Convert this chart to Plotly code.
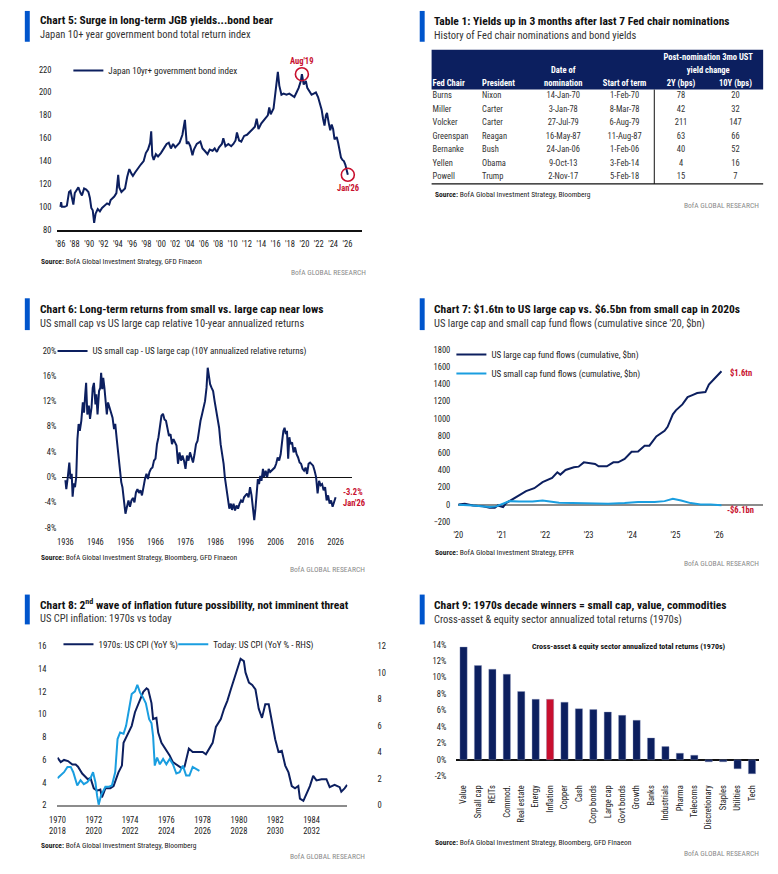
import plotly.graph_objects as go

W, H = 778, 874
def px(x): return x / W
def py(y): return 1 - y / H

NAVY = "#0c1f5f"
LIGHT = "#1a9ee0"
RED = "#c8102e"
ACCENT = "#0055cc"
FONT = "Liberation Sans Narrow, Roboto Condensed, Arial Narrow, sans-serif"
TXT = "#222222"

# ---------------- Chart 5 data: Japan 10yr+ government bond index ----------------
jgb_t = [1986.0,1986.1,1986.2,1986.6,1986.9,1987.2,1987.4,1987.6,1987.8,1988.0,1988.3,1988.5,1988.8,1989.0,1989.3,1989.6,1989.9,
         1990.1,1990.3,1990.5,1990.7,1990.9,1991.2,1991.5,1991.8,1992.0,1992.5,1992.8,1993.0,1993.5,1993.8,1994.05,1994.2,1994.5,
         1994.8,1995.0,1995.3,1995.6,1995.9,1996.1,1996.4,1996.8,1997.2,1997.6,1997.9,1998.2,1998.5,1998.65,1998.8,1999.0,1999.3,
         1999.6,2000.0,2000.5,2000.8,2001.1,2001.4,2001.7,2002.0,2002.3,2002.6,2003.0,2003.35,2003.6,2003.8,2004.1,2004.4,2004.6,
         2005.0,2005.5,2005.8,2006.1,2006.5,2006.8,2007.2,2007.5,2007.8,2008.1,2008.5,2008.7,2009.0,2009.4,2009.8,2010.1,2010.4,
         2010.6,2010.9,2011.2,2011.6,2012.0,2012.4,2012.8,2013.1,2013.35,2013.6,2014.0,2014.5,2014.9,2015.1,2015.3,2015.7,2016.0,
         2016.3,2016.5,2016.8,2017.1,2017.5,2017.9,2018.3,2018.6,2018.9,2019.2,2019.5,2019.65,2019.9,2020.2,2020.4,2020.7,2021.0,
         2021.3,2021.6,2021.9,2022.2,2022.4,2022.6,2022.8,2023.0,2023.15,2023.4,2023.6,2023.8,2024.0,2024.2,2024.5,2024.7,2024.9,
         2025.1,2025.3,2025.5,2025.7,2025.9,2026.05]
jgb_v = [100,104,100,100,101,113,114,108,102,112,115,117,112,110,116,115,113,
         108,99,97,86,94,98,96,99,100,103,102,106,109,112,128,117,113,
         115,116,126,133,129,127,130,134,137,140,147,150,156,166,145,141,146,
         144,147,152,155,156,151,155,152,154,156,163,176,155,157,153,145,150,
         155,157,151,149,146,150,149,151,148,152,155,160,153,155,153,155,158,
         165,158,157,162,163,166,168,170,177,168,173,177,180,187,181,186,200,
         218,206,198,199,198,199,197,196,200,204,210,216,207,210,204,201,198,
         199,200,196,190,185,177,171,180,182,173,167,172,168,159,161,156,150,
         143,141,140,137,131,128]
jgb_marks = [2019.65, 2026.05]
jgb_mark_labels = ["Aug'19", "Jan'26"]
jgb_ticks = list(range(1986, 2027, 2))

# ---------------- Table 1 data ----------------
tbl_head_bottom = ["Fed Chair", "President", "nomination", "Start of term", "2Y (bps)", "10Y (bps)"]
tbl_head_mid = ["", "", "Date of", "", "yield change", ""]
tbl_head_top = ["", "", "", "", "Post-nomination 3mo UST", ""]
fed_chair = ["Burns", "Miller", "Volcker", "Greenspan", "Bernanke", "Yellen", "Powell"]
president = ["Nixon", "Carter", "Carter", "Reagan", "Bush", "Obama", "Trump"]
nom_date = ["14-Jan-70", "3-Jan-78", "27-Jul-79", "16-May-87", "24-Jan-06", "9-Oct-13", "2-Nov-17"]
term_start = ["1-Feb-70", "8-Mar-78", "6-Aug-79", "11-Aug-87", "1-Feb-06", "3-Feb-14", "5-Feb-18"]
chg_2y = [78, 42, 211, 63, 40, 4, 15]
chg_10y = [20, 32, 147, 66, 52, 16, 7]

# ---------------- Chart 6 data: small minus large cap 10Y annualized ----------------
sl_t = [1936.0,1936.3,1936.8,1937.3,1937.7,1938.1,1938.4,1938.8,1939.2,1939.6,1940.0,1940.4,1940.8,1941.3,1941.8,1942.2,1942.6,
        1942.9,1943.3,1943.8,1944.2,1944.7,1945.1,1945.5,1946.0,1946.3,1946.7,1947.2,1947.6,1947.9,1948.3,1948.6,1949.0,1949.4,
        1949.8,1950.2,1950.7,1951.2,1951.7,1952.2,1952.6,1953.1,1953.6,1954.1,1954.6,1955.0,1955.5,1956.0,1956.5,1957.0,1957.5,
        1958.0,1958.5,1959.0,1959.5,1960.0,1960.5,1961.0,1961.5,1962.0,1962.5,1963.0,1963.5,1964.0,1964.5,1965.0,1965.5,1966.0,
        1966.5,1967.0,1967.5,1968.0,1968.5,1969.0,1969.5,1970.0,1970.5,1971.0,1971.5,1972.0,1972.5,1973.0,1973.5,1974.0,1974.5,
        1975.0,1975.5,1976.0,1976.5,1977.0,1977.5,1978.0,1978.5,1979.0,1979.5,1980.0,1980.5,1981.0,1981.5,1982.0,1982.5,1983.0,
        1983.4,1983.8,1984.2,1984.7,1985.2,1985.7,1986.2,1986.7,1987.2,1987.7,1988.2,1988.7,1989.1,1989.6,1990.1,1990.6,1991.1,
        1991.5,1992.0,1992.5,1993.0,1993.5,1994.0,1994.5,1995.0,1995.5,1996.0,1996.5,1997.0,1997.5,1998.0,1998.5,1998.9,1999.3,
        1999.7,2000.1,2000.5,2000.9,2001.3,2001.8,2002.2,2002.7,2003.2,2003.7,2004.2,2004.7,2005.2,2005.7,2006.2,2006.7,2007.2,
        2007.7,2008.2,2008.6,2009.0,2009.4,2009.8,2010.2,2010.6,2011.0,2011.5,2012.0,2012.5,2013.0,2013.5,2014.0,2014.5,2015.0,
        2015.5,2016.0,2016.5,2017.0,2017.5,2018.0,2018.5,2019.0,2019.5,2020.0,2020.5,2021.0,2021.5,2022.0,2022.5,2023.0,2023.5,
        2024.0,2024.5,2025.0,2025.5,2026.0]
sl_v = [-0.5,-1.9,0.0,2.3,-0.3,0.5,-3.1,-1.0,-1.6,0.0,6.0,8.4,7.3,8.9,11.8,10.2,13.1,
        14.9,9.9,11.3,9.2,11.0,14.1,14.9,11.5,13.1,9.9,13.6,14.1,16.5,13.9,15.7,14.1,11.3,
        9.9,11.8,11.0,10.5,9.4,7.6,8.4,6.0,3.6,0.5,-0.8,-1.6,-4.2,-5.8,-4.7,-3.7,-4.7,
        -3.7,-3.3,-4.0,-2.4,-1.9,-2.5,-2.1,-2.9,-1.3,-0.3,0.5,-0.3,0.8,1.3,1.5,2.6,2.9,
        5.2,6.3,7.8,9.7,10.0,9.1,8.9,7.8,6.5,6.8,5.2,6.0,5.5,5.0,2.1,3.9,2.6,
        3.4,2.6,1.3,3.4,2.6,3.9,3.1,2.3,3.6,5.2,5.7,7.6,8.9,9.9,11.3,12.0,14.1,
        17.3,16.0,14.7,14.1,13.6,12.0,10.5,8.9,7.8,5.2,3.6,2.1,0.0,-1.6,-3.2,-5.0,-4.2,
        -5.2,-4.2,-5.3,-4.5,-5.0,-4.2,-3.7,-4.0,-3.2,-2.9,-2.6,-3.2,-1.6,-2.9,-5.0,-6.8,-5.0,
        -3.2,-0.3,-1.1,0.2,-0.6,1.3,0.0,1.0,0.0,1.3,0.8,1.0,1.3,1.5,2.1,3.1,2.6,
        3.6,5.7,7.3,7.8,6.8,7.3,2.9,6.3,5.2,5.5,3.9,4.7,3.6,3.1,2.3,2.1,1.3,
        1.0,1.5,0.5,2.1,2.3,2.1,1.8,1.0,0.0,-2.6,-0.6,-1.3,-1.1,-2.1,-1.6,-3.7,-2.9,
        -4.2,-3.7,-4.7,-4.0,-3.2]
sl_ticks = list(range(1936, 2027, 10))
sl_yticks = [-8, -4, 0, 4, 8, 12, 16, 20]

# ---------------- Chart 7 data: cumulative fund flows ($bn) ----------------
lc_t = [2020.0,2020.15,2020.34,2020.57,2020.72,2020.84,2020.91,2021.03,2021.1,2021.25,2021.56,2021.75,2021.94,2022.16,2022.28,
        2022.35,2022.47,2022.66,2022.77,2022.89,2023.0,2023.15,2023.23,2023.42,2023.57,2023.68,2023.83,2023.99,2024.14,2024.29,
        2024.4,2024.56,2024.75,2024.82,2024.94,2025.01,2025.16,2025.28,2025.39,2025.5,2025.69,2025.77,2025.88,2026.0,2026.06]
lc_v = [4,12,-8,-19,-35,-35,-8,-27,19,65,158,192,262,312,377,
        350,404,435,442,492,481,473,446,446,492,492,531,615,619,685,
        685,792,858,904,1050,1096,1165,1250,1273,1296,1308,1396,1454,1512,1550]
sc_t = [2020.0,2020.34,2020.72,2020.87,2021.03,2021.18,2021.4,2021.71,2021.94,2022.16,2022.32,2022.62,2023.08,2023.45,2023.83,
        2024.14,2024.52,2024.75,2024.94,2025.13,2025.35,2025.58,2025.81,2026.06]
sc_v = [0,-8,-27,-19,12,42,38,38,50,38,23,19,15,12,19,
        31,31,42,69,50,19,4,4,-6]
flow_ticks = [2020, 2021, 2022, 2023, 2024, 2025, 2026]
flow_yticks = list(range(-200, 1801, 200))

# ---------------- Chart 8 data: US CPI YoY ----------------
cpi70_t = [1970.00,1970.18,1970.36,1970.58,1970.82,1971.00,1971.13,1971.36,1971.55,1971.67,1971.82,1972.00,1972.18,1972.36,1972.45,
           1972.64,1972.91,1973.09,1973.36,1973.55,1973.64,1974.09,1974.27,1974.55,1974.73,1974.91,1975.00,1975.18,1975.27,1975.45,
           1975.55,1975.73,1976.00,1976.18,1976.36,1976.64,1976.82,1977.00,1977.09,1977.24,1977.45,1977.73,1978.00,1978.18,1978.36,
           1978.55,1978.73,1979.00,1979.18,1979.36,1979.55,1979.73,1979.91,1980.09,1980.27,1980.36,1980.55,1980.73,1980.91,1981.09,
           1981.27,1981.45,1981.64,1981.82,1982.00,1982.18,1982.36,1982.55,1982.73,1982.91,1983.09,1983.27,1983.36,1983.55,1983.73,
           1983.91,1984.09,1984.27,1984.55,1984.82,1985.00,1985.27,1985.55,1985.64,1985.82,1985.96]
cpi70_v = [6.2,5.8,6.0,5.9,5.6,5.6,5.4,4.8,4.5,4.3,4.4,3.5,3.3,3.4,2.7,
           3.5,3.5,3.7,4.9,5.5,7.5,9.0,10.2,11.3,12.0,12.3,12.2,11.0,9.6,9.7,
           8.4,7.5,6.8,6.4,5.8,5.5,5.3,5.4,6.1,7.0,6.7,6.7,6.7,6.5,7.0,
           7.5,8.9,9.6,10.5,11.2,12.2,13.1,14.1,14.9,14.7,13.7,12.8,12.6,12.2,10.5,
           9.7,10.9,10.9,9.3,7.8,6.7,6.8,5.5,4.9,3.7,3.5,3.7,2.6,2.4,3.0,
           3.7,4.6,4.2,4.3,4.3,3.6,3.8,3.6,3.2,3.5,3.8]
cpi_now_t = [2018.00,2018.18,2018.36,2018.55,2018.73,2018.87,2019.00,2019.09,2019.27,2019.45,2019.64,2019.82,2019.96,2020.09,
             2020.18,2020.27,2020.40,2020.64,2020.82,2021.00,2021.18,2021.31,2021.45,2021.64,2021.78,2021.91,2022.09,2022.27,
             2022.40,2022.55,2022.69,2022.87,2023.05,2023.18,2023.27,2023.36,2023.49,2023.64,2023.82,2024.00,2024.18,2024.36,
             2024.55,2024.73,2024.91,2025.09,2025.27,2025.45,2025.64,2025.82]
cpi_now_v = [2.05,2.25,2.5,2.9,2.9,2.5,2.0,1.5,1.9,1.6,1.75,2.05,2.5,1.75,
             0.75,0.05,0.75,1.4,1.4,1.5,2.5,5.0,5.5,5.4,6.0,7.0,8.4,8.6,
             9.1,8.5,8.2,7.7,6.5,6.2,5.2,3.0,3.6,3.1,3.5,3.1,3.5,3.1,
             2.4,2.5,3.0,2.25,2.25,2.9,2.75,2.6]
cpi_ticks_70 = list(range(1970, 1985, 2))
cpi_ticks_now = list(range(2018, 2033, 2))

# ---------------- Chart 9 data: 1970s annualized total returns ----------------
assets = ["Value", "Small cap", "REITs", "Commod.", "Real estate", "Energy", "Inflation", "Copper", "Cash", "Corp bonds",
          "Large cap", "Govt bonds", "Growth", "Banks", "Industrials", "Pharma", "Telecoms", "Discretionary", "Staples",
          "Utilities", "Tech"]
asset_ret = [13.7, 11.45, 11.0, 10.4, 8.3, 7.35, 7.35, 7.0, 6.2, 6.1, 5.8, 5.4, 4.8, 2.65, 1.6, 0.8, 0.55, -0.25, -0.25,
             -1.1, -1.7]
highlight = "Inflation"

fig = go.Figure()

# Chart 5
fig.add_trace(go.Scatter(x=jgb_t, y=jgb_v, mode="lines", line=dict(color=NAVY, width=2),
                         name="Japan 10yr+ government bond index", xaxis="x", yaxis="y", legend="legend"))
mark_v = [jgb_v[jgb_t.index(t)] for t in jgb_marks]
fig.add_trace(go.Scatter(x=jgb_marks, y=mark_v, mode="markers", showlegend=False, xaxis="x", yaxis="y",
                         marker=dict(symbol="circle-open", size=13, color=RED, line=dict(width=1.6, color=RED))))

# Table 1 drawn as text on its own pixel-like axes (x7 / y7)
T_LEFT, T_RIGHT, T_TOP, T_HEAD_BOT, T_BOT = 428, 763, 50, 90, 185
col_x = [429, 479, 561, 623, 680, 735]
col_pos = ["middle right", "middle right", "middle center", "middle center", "middle center", "middle center"]
row_h = (T_BOT - T_HEAD_BOT) / len(fed_chair)
row_y = [T_HEAD_BOT + row_h * (i + 0.5) for i in range(len(fed_chair))]
body_cols = [fed_chair, president, nom_date, term_start, chg_2y, chg_10y]
for cx, pos, vals in zip(col_x, col_pos, body_cols):
    fig.add_trace(go.Scatter(x=[cx] * len(vals), y=row_y, mode="text", text=[str(v) for v in vals],
                             textposition=pos, textfont=dict(family=FONT, size=8.5, color="#333333"),
                             xaxis="x7", yaxis="y7", showlegend=False, hoverinfo="skip", cliponaxis=False))
head_rows = [(tbl_head_bottom, 84.5), (tbl_head_mid, 71.5), (tbl_head_top, 58)]
span_x = (col_x[4] + col_x[5]) / 2
for labels, hy in head_rows:
    xs, ts, ps = [], [], []
    for i, lab in enumerate(labels):
        if not lab:
            continue
        spanning = labels is not tbl_head_bottom and i == 4
        xs.append(span_x if spanning else col_x[i])
        ts.append("<b>" + lab + "</b>")
        ps.append(col_pos[i])
    fig.add_trace(go.Scatter(x=xs, y=[hy] * len(xs), mode="text", text=ts, textposition=ps,
                             textfont=dict(family=FONT, size=8.5, color="white"),
                             xaxis="x7", yaxis="y7", showlegend=False, hoverinfo="skip", cliponaxis=False))

# Chart 6
fig.add_trace(go.Scatter(x=sl_t, y=sl_v, mode="lines", line=dict(color=NAVY, width=2),
                         name="US small cap - US large cap (10Y annualized relative returns)",
                         xaxis="x2", yaxis="y2", legend="legend2"))

# Chart 7
fig.add_trace(go.Scatter(x=lc_t, y=lc_v, mode="lines", line=dict(color=NAVY, width=2),
                         name="US large cap fund flows (cumulative, $bn)", xaxis="x3", yaxis="y3", legend="legend3"))
fig.add_trace(go.Scatter(x=sc_t, y=sc_v, mode="lines", line=dict(color=LIGHT, width=2),
                         name="US small cap fund flows (cumulative, $bn)", xaxis="x3", yaxis="y3", legend="legend3"))

# Chart 8
fig.add_trace(go.Scatter(x=cpi70_t, y=cpi70_v, mode="lines", line=dict(color=NAVY, width=2),
                         name="1970s: US CPI (YoY %)", xaxis="x4", yaxis="y4", legend="legend4"))
fig.add_trace(go.Scatter(x=cpi_now_t, y=cpi_now_v, mode="lines", line=dict(color=LIGHT, width=2),
                         name="Today: US CPI (YoY % - RHS)", xaxis="x5", yaxis="y5", legend="legend5"))

# Chart 9
fig.add_trace(go.Bar(x=assets, y=asset_ret, xaxis="x6", yaxis="y6", showlegend=False,
                     marker=dict(color=[RED if a == highlight else NAVY for a in assets],
                                 line=dict(color="rgba(140,150,190,0.6)", width=0.6))))

tick_font = dict(family=FONT, size=8.5, color=TXT)

def xax(dom, rng, **kw):
    d = dict(domain=[px(dom[0]), px(dom[1])], range=rng, showgrid=False, zeroline=False, ticks="",
             tickfont=tick_font, fixedrange=True)
    d.update(kw)
    return d

def yax(dom, rng, **kw):
    d = dict(domain=[py(dom[1]), py(dom[0])], range=rng, showgrid=False, zeroline=False, ticks="",
             tickfont=tick_font, fixedrange=True)
    d.update(kw)
    return d

def pct(vals):
    return ["%d%%" % v for v in vals]

y6_ticks = list(range(-2, 15, 2))

layout = dict(
    width=W, height=H, margin=dict(l=0, r=0, t=0, b=0),
    paper_bgcolor="white", plot_bgcolor="rgba(0,0,0,0)",
    font=dict(family=FONT, color=TXT),
    # chart 5
    xaxis=xax((50, 358), [1985.59, 2028.07], anchor="y", tickvals=jgb_ticks,
              ticktext=["'" + str(t)[2:] for t in jgb_ticks], showline=True, linecolor="#111", linewidth=2,
              ticklabelstandoff=5),
    yaxis=yax((58.5, 231), [80, 230], anchor="x", tickvals=list(range(80, 221, 20)), ticklabelstandoff=5),
    # chart 6
    xaxis2=xax((55, 348), [1935.01, 2031.6], anchor="y2", tickvals=sl_ticks, ticklabelstandoff=4),
    yaxis2=yax((345, 535), [-8.68, 21.2], anchor="x2", tickvals=sl_yticks, ticktext=pct(sl_yticks),
               zeroline=True, zerolinecolor="#111", zerolinewidth=1.3, ticklabelstandoff=5),
    # chart 7
    xaxis3=xax((455, 763), [2020, 2027.02], anchor="y3", tickvals=flow_ticks,
               ticktext=["'" + str(t)[2:] for t in flow_ticks], ticklabelstandoff=2),
    yaxis3=yax((345, 530), [-258, 1877], anchor="x3", tickvals=flow_yticks,
               zeroline=True, zerolinecolor="#8c8c8c", zerolinewidth=2, ticklabelstandoff=7),
    # chart 8
    xaxis4=xax((50, 343), [1970, 1985.98], anchor="y4", tickvals=cpi_ticks_70, showline=True,
               linecolor="#8c8c8c", linewidth=2, ticklabelstandoff=5),
    xaxis5=xax((50, 343), [2018, 2033.98], anchor="y4", overlaying="x4", side="bottom",
               tickvals=cpi_ticks_now, ticklabelstandoff=19),
    yaxis4=yax((645, 810), [2, 16.44], anchor="x4", tickvals=list(range(2, 17, 2)), ticklabelstandoff=10),
    yaxis5=yax((645, 810), [0, 12.375], anchor="x4", overlaying="y4", side="right",
               tickvals=list(range(0, 13, 2)), ticklabelstandoff=29),
    # chart 9
    xaxis6=xax((453, 759), [-0.5, 20.5], anchor="y6", type="category", tickangle=-90, ticklabelstandoff=3),
    yaxis6=yax((642, 784), [-2.4, 14.76], anchor="x6", tickvals=y6_ticks, ticktext=pct(y6_ticks),
               zeroline=True, zerolinecolor="#111", zerolinewidth=1.5, ticklabelstandoff=9),
    # table pseudo-axes (pixel units)
    xaxis7=dict(domain=[px(421), px(763)], range=[421, 763], visible=False, fixedrange=True, anchor="y7"),
    yaxis7=dict(domain=[py(192), py(50)], range=[192, 50], visible=False, fixedrange=True, anchor="x7"),
    bargap=0.5,
)

leg_font = dict(family=FONT, size=9, color=TXT)
def legend_at(x, y, yanchor="middle"):
    return dict(x=px(x), y=py(y), xanchor="left", yanchor=yanchor, bgcolor="rgba(0,0,0,0)",
                font=leg_font, itemwidth=30, tracegroupgap=0)
layout["legend"] = legend_at(61, 71)
layout["legend2"] = legend_at(45, 353)
layout["legend3"] = legend_at(448, 342, "top")
layout["legend4"] = legend_at(51, 648)
layout["legend5"] = legend_at(167, 648)

fig.update_layout(**layout)

# table header background and rules
fig.add_shape(type="rect", xref="paper", yref="paper", x0=px(T_LEFT), x1=px(T_RIGHT), y0=py(T_HEAD_BOT), y1=py(T_TOP),
              fillcolor=NAVY, line_width=0, layer="below")
fig.add_shape(type="line", xref="paper", yref="paper", x0=px(653), x1=px(653), y0=py(T_BOT), y1=py(T_HEAD_BOT),
              line=dict(color="#111", width=1))
fig.add_shape(type="line", xref="paper", yref="paper", x0=px(T_LEFT), x1=px(T_RIGHT), y0=py(T_BOT), y1=py(T_BOT),
              line=dict(color="#111", width=1.2))

# ----- titles, subtitles, sources -----
panels = [
    (17, 11, 42, 30, 20.5, 35, "Chart 5: Surge in long-term JGB yields...bond bear",
     "Japan 10+ year government bond total return index", 263, 274, 364, "BofA Global Investment Strategy, GFD Finaeon"),
    (416, 11, 42, 428, 21, 35.5, "Table 1: Yields up in 3 months after last 7 Fed chair nominations",
     "History of Fed chair nominations and bond yields", 196, 207, 761, "BofA Global Investment Strategy, Bloomberg"),
    (17, 300, 332, 30, 311, 325, "Chart 6: Long-term returns from small vs. large cap near lows",
     "US small cap vs US large cap relative 10-year annualized returns", 560.5, 572.5, 363,
     "BofA Global Investment Strategy, Bloomberg, GFD Finaeon"),
    (416, 300, 332, 428, 311, 325, "Chart 7: $1.6tn to US large cap vs. $6.5bn from small cap in 2020s",
     "US large cap and small cap fund flows (cumulative since '20, $bn)", 555.5, 566.5, 761,
     "BofA Global Investment Strategy, EPFR"),
    (17, 598, 628, 30, 607.5, 622.5, "Chart 8: 2<sup>nd</sup> wave of inflation future possibility, not imminent threat",
     "US CPI inflation: 1970s vs today", 850, 861.5, 363, "BofA Global Investment Strategy, Bloomberg"),
    (416, 598, 628, 428, 608, 623, "Chart 9: 1970s decade winners = small cap, value, commodities",
     "Cross-asset & equity sector annualized total returns (1970s)", 847, 858, 761,
     "BofA Global Investment Strategy, Bloomberg, GFD FInaeon"),
]
for (bx, by0, by1, tx, ty, sy, title, sub, srcy, cry, crx, src) in panels:
    fig.add_shape(type="rect", xref="paper", yref="paper", x0=px(bx), x1=px(bx + 5), y0=py(by1), y1=py(by0),
                  fillcolor=ACCENT, line_width=0)
    fig.add_annotation(x=px(tx), y=py(ty), xref="paper", yref="paper", xanchor="left", yanchor="middle",
                       text="<b>" + title + "</b>", showarrow=False, font=dict(family=FONT, size=11.5, color="#111"))
    fig.add_annotation(x=px(tx), y=py(sy), xref="paper", yref="paper", xanchor="left", yanchor="middle",
                       text=sub, showarrow=False, font=dict(family=FONT, size=10.5, color="#333"))
    fig.add_annotation(x=px(tx + 1), y=py(srcy), xref="paper", yref="paper", xanchor="left", yanchor="middle",
                       text="<b>Source:</b> " + src, showarrow=False, font=dict(family=FONT, size=7.5, color="#222"))
    fig.add_annotation(x=px(crx), y=py(cry), xref="paper", yref="paper", xanchor="right", yanchor="middle",
                       text="BofA GLOBAL RESEARCH", showarrow=False, font=dict(family=FONT, size=7.5, color="#8a8a8a"))

# chart 5 markers labels
for t, v, lab, shift in zip(jgb_marks, mark_v, jgb_mark_labels, [13, -13]):
    fig.add_annotation(x=t, y=v, xref="x", yref="y", text="<b>" + lab + "</b>", showarrow=False, yshift=shift,
                       xanchor="center", yanchor="middle", font=dict(family=FONT, size=8.5, color=RED))

def red_label(x, y, text):
    fig.add_annotation(x=px(x), y=py(y), xref="paper", yref="paper", text="<b>" + text + "</b>", showarrow=False,
                       xanchor="center", yanchor="middle", font=dict(family=FONT, size=8.5, color=RED))

red_label(349, 495, "%.1f%%" % sl_v[-1])
red_label(350, 506, "Jan'26")
red_label(741, 375.5, "$1.6tn")
red_label(740, 513, "-$6.1bn")

# chart 9 inner title
fig.add_annotation(x=px(627), y=py(650), xref="paper", yref="paper", xanchor="center", yanchor="middle",
                   text="<b>Cross-asset & equity sector annualized total returns (1970s)</b>", showarrow=False,
                   font=dict(family=FONT, size=8, color="#111"))

fig.write_html("out.html", config={"displayModeBar": False},
               post_script="document.body.style.margin='0px';")
